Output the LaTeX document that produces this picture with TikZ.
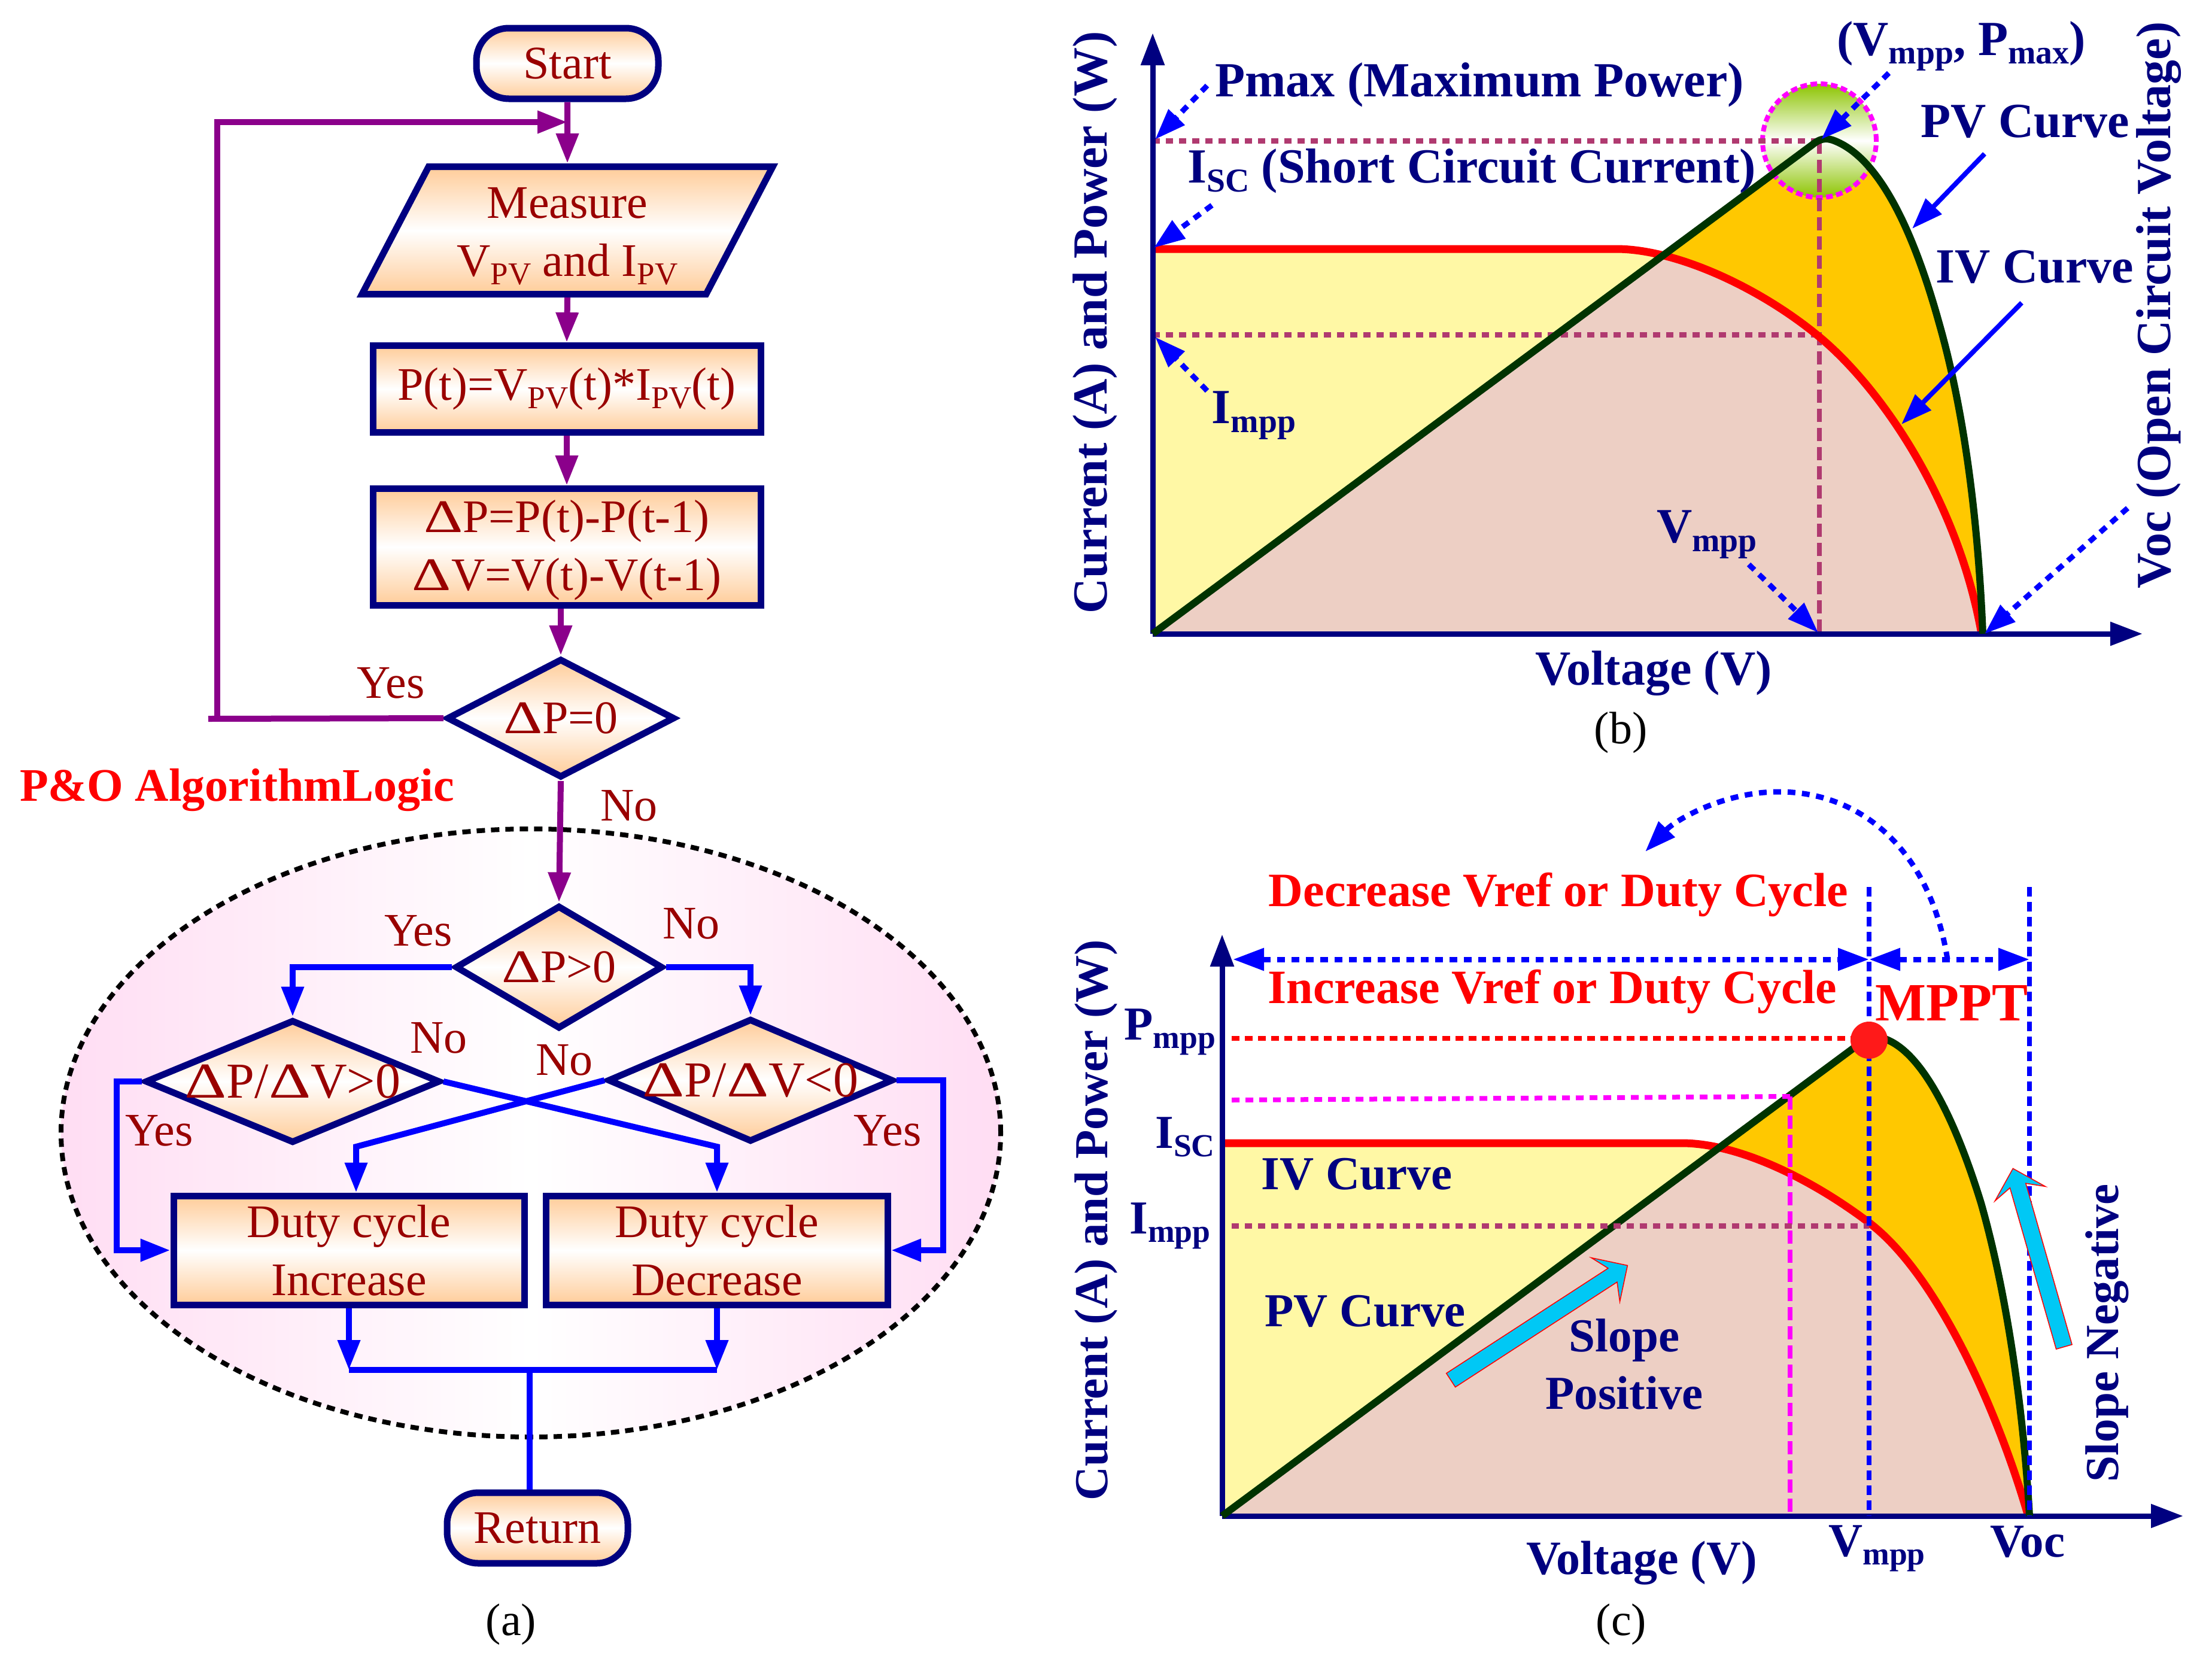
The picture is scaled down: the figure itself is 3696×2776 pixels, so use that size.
\documentclass[tikz,border=0pt]{standalone}
\usepackage{fontspec}
\usepackage{graphicx}
\setmainfont{Liberation Serif}
\usetikzlibrary{arrows.meta,shapes.geometric,shapes.arrows,calc}
\definecolor{nv}{HTML}{000080}
\definecolor{pu}{HTML}{8B008B}
\definecolor{bl}{HTML}{0000FF}
\definecolor{tx}{HTML}{990000}
\definecolor{oc}{HTML}{FFCC99}
\definecolor{pk}{HTML}{FFDDF3}
\definecolor{mv}{HTML}{B03A70}
\definecolor{ye}{HTML}{FFF8A5}
\definecolor{br}{HTML}{EDCFC4}
\definecolor{og}{HTML}{FFC800}
\definecolor{dg}{HTML}{003300}
\definecolor{gn}{HTML}{8CC400}
\definecolor{cy}{HTML}{00C8F5}
\definecolor{mg}{HTML}{FF00FF}
\definecolor{rd}{HTML}{FF0000}
\newcommand\mysub[1]{\raisebox{-0.18em}{\scalebox{0.68}{#1}}}
\newcommand\dlt{\scalebox{1.3}[1]{Δ}}
\tikzset{
  bodyt/.style={text=tx,inner sep=0pt,align=center,font=\fontsize{78}{97}\selectfont},
  grad/.style={shade,top color=oc,bottom color=oc,middle color=white,draw=nv,line width=11pt,line join=miter},
  proc/.style={grad,rectangle,bodyt,inner sep=0pt},
  term/.style={grad,rectangle,rounded corners=54pt,bodyt,inner sep=0pt},
  dec/.style={grad,diamond,inner sep=0pt},
  flowp/.style={draw=pu,line width=10pt},
  flowb/.style={draw=bl,line width=10pt},
  tipf/.style={-{Triangle[length=50pt,width=36pt]}},
  lbl/.style={bodyt},
  navyb/.style={text=nv,inner sep=0pt,font=\fontsize{82}{90}\selectfont\bfseries},
  navyr/.style={text=nv,inner sep=0pt,font=\fontsize{79}{90}\selectfont\bfseries},
  redb/.style={text=rd,inner sep=0pt,font=\fontsize{80}{90}\selectfont\bfseries},
  captxt/.style={text=black,inner sep=0pt,font=\fontsize{76}{80}\selectfont},
  axs/.style={draw=nv,line width=9pt,-{Triangle[length=54pt,width=38pt]}},
  dasharr/.style={draw=bl,line width=9pt,dash pattern=on 13pt off 11pt,-{Triangle[length=52pt,width=36pt]}},
  solarr/.style={draw=bl,line width=8pt,-{Triangle[length=52pt,width=36pt]}},
  mdash/.style={draw=mv,line width=9pt,dash pattern=on 12pt off 10pt},
  mvert/.style={draw=mv,line width=8pt,dash pattern=on 22pt off 10pt},
  ivcurve/.style={draw=rd,line width=13pt},
  pvcurve/.style={draw=dg,line width=12pt},
  cyarr/.style={single arrow,draw=rd,line width=1.5pt,fill=cy,inner sep=13pt,single arrow head extend=30pt,single arrow head indent=14pt,anchor=center},
  ivbp/.style={insert path={-- (2700,416) .. controls (2800,416) and (2940,480) .. (3040,563) .. controls (3140,646) and (3270,830) .. (3311,1059)}},
  pvbp/.style={insert path={-- (3028,242) .. controls (3040,232) and (3050,230) .. (3062,234) .. controls (3130,258) and (3190,360) .. (3240,540) .. controls (3280,680) and (3305,860) .. (3313,1059)}},
  ivcp/.style={insert path={-- (2810,1910) .. controls (2900,1910) and (3020,1965) .. (3123,2043) .. controls (3240,2132) and (3340,2365) .. (3388,2530)}},
  pvcp/.style={insert path={-- (3096,1752) .. controls (3112,1740) and (3130,1728) .. (3150,1736) .. controls (3215,1760) and (3270,1880) .. (3310,2010) .. controls (3350,2150) and (3380,2340) .. (3391,2533)}}
}
\begin{document}
\begin{tikzpicture}[x=1pt,y=-1pt]
\useasboundingbox (0,0) rectangle (3696,2776);
\fill[white] (0,0) rectangle (3696,2776);
% ---------- (a) flowchart
\node[ellipse,shade,left color=pk,right color=pk,middle color=white,draw=black,line width=8pt,dash pattern=on 14pt off 10pt,minimum width=1570pt,minimum height=1016pt,inner sep=0pt] (zone) at (887,1893) {};
\node[term,minimum width=304pt,minimum height=118pt] (start) at (948,106) {Start};
\node[grad,bodyt,trapezium,trapezium left angle=64,trapezium right angle=116,trapezium stretches=true,minimum width=691pt,minimum height=213pt,inner sep=0pt] (meas) at (948,385) {\rule{0pt}{70pt}Measure\\V\mysub{PV} and I\mysub{PV}};
\node[proc,minimum width=648pt,minimum height=145pt] (pt) at (947,650) {P(t)=V\mysub{PV}(t)*I\mysub{PV}(t)};
\node[proc,minimum width=648pt,minimum height=195pt] (dp) at (947,914) {\rule{0pt}{64pt}\dlt P=P(t)-P(t-1)\\\dlt V=V(t)-V(t-1)};
\node[dec,minimum width=381pt,minimum height=199pt,label={[bodyt]center:\dlt P=0}] (d1) at (937,1200) {};
\node[dec,minimum width=347pt,minimum height=206pt,label={[bodyt]center:\dlt P>0}] (d2) at (934,1616) {};
\node[dec,minimum width=493pt,minimum height=206pt,label={[bodyt,font=\fontsize{84}{97}\selectfont]center:\dlt P/\dlt V>0}] (d3) at (489,1807) {};
\node[dec,minimum width=477pt,minimum height=206pt,label={[bodyt,font=\fontsize{84}{97}\selectfont]center:\dlt P/\dlt V<0}] (d4) at (1254,1805) {};
\node[proc,minimum width=586pt,minimum height=182pt] (inc) at (583,2089) {Duty cycle\\Increase};
\node[proc,minimum width=571pt,minimum height=182pt] (decr) at (1198,2089) {Duty cycle\\Decrease};
\node[term,minimum width=302pt,minimum height=118pt,rounded corners=52pt] (ret) at (898,2553) {Return};
\coordinate (j1) at (948,204);
\coordinate (lp0) at (348,1201);
\coordinate (lp1) at (363,1201);
\coordinate (lp2) at (363,204);
\draw[flowp,tipf] (start.south) -- (meas.north);
\draw[flowp] (lp0) -- (d1.west);
\draw[flowp,tipf] (lp1) -- (lp2) -- (j1);
\draw[flowp,tipf] (meas.south) -- (pt.north);
\draw[flowp,tipf] (pt.south) -- (dp.north);
\draw[flowp,tipf] (d1.north |- dp.south) -- (d1.north);
\draw[flowp,tipf] (d1.south) -- (d2.north);
\draw[flowb,tipf] (d2.west) -| (d3.north);
\draw[flowb,tipf] (d2.east) -| (d4.north);
\coordinate (k1) at (595,1916);
\coordinate (k2) at (1198,1916);
\coordinate (l1) at (195,2089);
\coordinate (r1) at (1576,2089);
\draw[flowb,tipf,line join=miter] (d3.east) -- (k2) -- (decr.north);
\draw[flowb,tipf,line join=miter] (d4.west) -- (k1) -- (k1 |- inc.north);
\draw[flowb,tipf] (d3.west) -| (l1) -- (inc.west);
\draw[flowb,tipf] (d4.east) -| (r1) -- (decr.east);
\coordinate (m1) at (583,2289);
\coordinate (m2) at (1198,2289);
\coordinate (m3) at (885,2289);
\draw[flowb,tipf] (inc.south) -- (m1);
\draw[flowb,tipf] (decr.south) -- (m2);
\draw[flowb] (m1) -- (m2);
\draw[flowb] (m3) -- (m3 |- ret.north);
\node[lbl] (ya) at (653,1141) {Yes};
\node[redb,font=\fontsize{78}{90}\selectfont\bfseries] (algo) at (396,1320) {P\&O AlgorithmLogic};
\node[lbl] (na) at (1051,1346) {No};
\node[lbl] (yb) at (699,1555) {Yes};
\node[lbl] (nb) at (1155,1543) {No};
\node[lbl] (nc) at (733,1734) {No};
\node[lbl] (nd) at (943,1771) {No};
\node[lbl] (yc) at (266,1889) {Yes};
\node[lbl] (yd) at (1483,1889) {Yes};
\node[captxt] (capa) at (854,2714) {(a)};
% ---------- (b) chart
\fill[og] (1926,1059) [pvbp] -- cycle;
\fill[ye] (1926,1059) -- (1926,416) [ivbp] -- cycle;
\begin{scope}
\clip (1926,1059) [pvbp] -- cycle;
\fill[br] (1926,1059) -- (1926,416) [ivbp] -- cycle;
\end{scope}
\node[circle,shade,top color=gn,bottom color=gn,middle color=white,draw=mg,line width=8pt,dash pattern=on 11pt off 6pt,minimum size=190pt,inner sep=0pt] (peak) at (3040,235) {};
\coordinate (bO) at (1926,1059);
\coordinate (bY) at (1926,55);
\coordinate (bX) at (3580,1059);
\coordinate (bP) at (1926,235);
\coordinate (bI) at (1926,559);
\coordinate (bM) at (3040,235);
\coordinate (bN) at (3040,559);
\coordinate (bV) at (3040,1059);
\draw[mdash] (bP) -- (bM);
\draw[mdash] (bI) -- (bN);
\draw[mvert] (bM) -- (bV);
\draw[ivcurve] (1926,416) [ivbp];
\draw[axs] (bO) -- (bY);
\draw[axs] (bO) -- (bX);
\draw[pvcurve,line join=round] (bO) [pvbp];
\node[navyb] (tpm) at (2472,142) {Pmax (Maximum Power)};
\node[navyb] (tis) at (2459,286) {I\mysub{SC} (Short Circuit Current)};
\node[navyb] (tpv) at (3384,203) {PV Curve};
\node[navyb] (tiv) at (3400,446) {IV Curve};
\node[navyb] (timp) at (2095,694) {I\mysub{mpp}};
\node[navyb] (tvm) at (2852,893) {V\mysub{mpp}};
\node[navyb] (tvo) at (2763,1125) {Voltage (V)};
\node[navyb] (tvp) at (3277,77) {(V\mysub{mpp}, P\mysub{max})};
\node[navyb,rotate=90] (tya) at (1830,539) {Current (A) and Power (W)};
\node[navyb,rotate=90] (tvc) at (3607,510) {Voc (Open Circuit Voltage)};
\node[captxt] (capb) at (2708,1224) {(b)};
\coordinate (a1) at (2017,143);  \coordinate (a2) at (1930,233);
\coordinate (a3) at (2025,343);  \coordinate (a4) at (1928,414);
\coordinate (a5) at (2017,653);  \coordinate (a6) at (1930,563);
\coordinate (a7) at (2922,943);  \coordinate (a8) at (3038,1057);
\coordinate (a9) at (3555,849);  \coordinate (a10) at (3316,1059);
\coordinate (a11) at (3156,122); \coordinate (a12) at (3043,233);
\coordinate (a13) at (3316,257); \coordinate (a14) at (3195,382);
\coordinate (a15) at (3378,506); \coordinate (a16) at (3177,709);
\draw[dasharr] (a1) -- (a2);
\draw[dasharr] (a3) -- (a4);
\draw[dasharr] (a5) -- (a6);
\draw[dasharr] (a7) -- (a8);
\draw[dasharr] (a9) -- (a10);
\draw[dasharr] (a11) -- (a12);
\draw[solarr] (a13) -- (a14);
\draw[solarr] (a15) -- (a16);
% ---------- (c) chart
\fill[og] (2042,2533) [pvcp] -- cycle;
\fill[ye] (2042,2533) -- (2042,1910) [ivcp] -- cycle;
\begin{scope}
\clip (2042,2533) [pvcp] -- cycle;
\fill[br] (2042,2533) -- (2042,1910) [ivcp] -- cycle;
\end{scope}
\coordinate (cO) at (2042,2533);
\coordinate (cY) at (2042,1561);
\coordinate (cX) at (3648,2533);
\coordinate (cP0) at (2058,1735);
\coordinate (cP1) at (3123,1735);
\coordinate (cG0) at (2058,1838);
\coordinate (cG1) at (2991,1832);
\coordinate (cG2) at (2991,2533);
\coordinate (cI0) at (2058,2048);
\coordinate (cI1) at (3123,2048);
\coordinate (cV0) at (3123,1482);
\coordinate (cV1) at (3123,2533);
\coordinate (cW0) at (3391,1482);
\coordinate (cW1) at (3391,2533);
\coordinate (cH0) at (2060,1603);
\coordinate (cH1) at (3123,1603);
\coordinate (cH2) at (3391,1603);
\coordinate (cC0) at (3254,1603);
\coordinate (cC1) at (2972,1323);
\coordinate (cC2) at (2749,1423);
\draw[ivcurve] (2042,1910) [ivcp];
\draw[axs] (cO) -- (cY);
\draw[axs] (cO) -- (cX);
\draw[pvcurve,line join=round] (cO) [pvcp];
\draw[draw=rd,line width=8pt,dash pattern=on 13pt off 9pt] (cP0) -- (cP1);
\draw[draw=mg,line width=8pt,dash pattern=on 13pt off 10pt] (cG0) -- (cG1);
\draw[draw=mg,line width=8pt,dash pattern=on 22pt off 10pt] (cG1) -- (cG2);
\draw[mdash] (cI0) -- (cI1);
\draw[draw=bl,line width=8pt,dash pattern=on 16pt off 9pt] (cV0) -- (cV1);
\draw[draw=bl,line width=8pt,dash pattern=on 16pt off 9pt] (cW0) -- (cW1);
\draw[dasharr,{Triangle[length=52pt,width=36pt]}-{Triangle[length=52pt,width=36pt]}] (cH0) -- (cH1);
\draw[dasharr,{Triangle[length=52pt,width=36pt]}-{Triangle[length=52pt,width=36pt]}] (cH1) -- (cH2);
\draw[dasharr] (cC0) .. controls (3225,1420) and (3110,1323) .. (cC1) .. controls (2880,1323) and (2800,1370) .. (cC2);
\node[circle,fill=rd!90!white,minimum size=62pt,inner sep=0pt] (mpp) at (3123,1738) {};
\node[cyarr,minimum height=352pt,minimum width=86pt,rotate=33] (ca1) at (2566,2214) {};
\node[cyarr,minimum height=310pt,minimum width=86pt,rotate=106] (ca2) at (3408,2108) {};
\node[redb] (tdec) at (2604,1495) {Decrease Vref or Duty Cycle};
\node[redb] (tinc) at (2594,1657) {Increase Vref or Duty Cycle};
\node[redb,font=\fontsize{90}{90}\selectfont\bfseries] (tmp) at (3261,1676) {MPPT};
\node[navyr] (tcp) at (1955,1724) {P\mysub{mpp}};
\node[navyr] (tcs) at (1980,1900) {I\mysub{SC}};
\node[navyr] (tci) at (1955,2048) {I\mysub{mpp}};
\node[navyr] (tcv) at (2267,1962) {IV Curve};
\node[navyr] (tcw) at (2281,2191) {PV Curve};
\node[navyr] (tsl) at (2714,2239) {Slope};
\node[navyr] (tps) at (2714,2327) {Positive};
\node[navyb,font=\fontsize{80}{90}\selectfont\bfseries] (tvv) at (2743,2612) {Voltage (V)};
\node[navyr] (tvm2) at (3136,2587) {V\mysub{mpp}};
\node[navyr] (tvc2) at (3388,2576) {Voc};
\node[navyr,rotate=90] (tsn) at (3521,2227) {Slope Negative};
\node[navyr,rotate=90] (tyc) at (1831,2039) {Current (A) and Power (W)};
\node[captxt] (capc) at (2709,2714) {(c)};
\end{tikzpicture}
\end{document}
